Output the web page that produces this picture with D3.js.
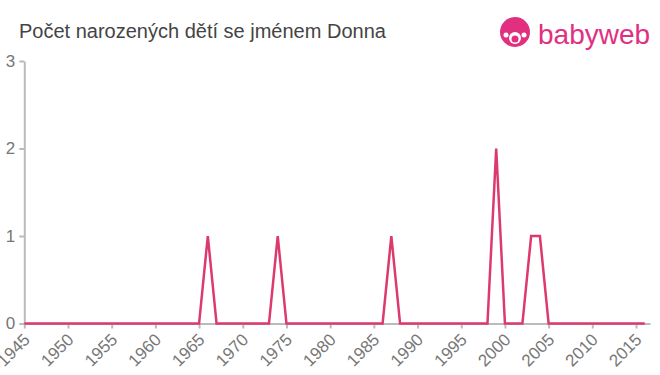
<!DOCTYPE html>
<meta charset="utf-8">
<style>
    body { margin: 0; background: #fff; }
    text { font-family: "Liberation Sans", Arial, sans-serif; }
    .title { font-size: 20px; fill: #444; }
    .axis text { font-size: 17px; fill: #777; }
    .axis path, .axis line { stroke: #bbb; stroke-width: 2px; }
</style>
<svg width="660" height="375"></svg>
<script src="https://d3js.org/d3.v7.min.js"></script>
<script>

    var years = d3.range(1945, 2017);
    // births per year, zero unless listed
    var counts = {1966: 1, 1974: 1, 1987: 1, 1999: 2, 2003: 1, 2004: 1};
    var values = years.map(function (y) { return counts[y] || 0; });
    var xTicks = d3.range(1945, 2016, 5);
    var yTicks = [0, 1, 2, 3];

    var svg = d3.select("svg");

    var x = d3.scaleLinear().domain([1945, 2016.6]).range([24.3, 650]);
    var y = d3.scaleLinear().domain([0, 3]).range([323.5, 61]);

    svg.append("text")
        .attr("class", "title")
        .attr("x", 19)
        .attr("y", 38)
        .text("Počet narozených dětí se jménem Donna");

    // x axis
    var gx = svg.append("g")
        .attr("class", "axis")
        .attr("transform", "translate(0," + y(0) + ")")
        .call(d3.axisBottom(x).tickValues(xTicks).tickFormat(d3.format("d")).tickSize(5).tickSizeOuter(0));
    gx.selectAll("text")
        .attr("text-anchor", "end")
        .attr("x", 0)
        .attr("y", 0)
        .attr("dy", "0.35em")
        .attr("transform", "translate(2,13) rotate(-45)");

    // y axis
    var gy = svg.append("g")
        .attr("class", "axis")
        .attr("transform", "translate(" + x(1945) + ",0)")
        .call(d3.axisLeft(y).tickValues(yTicks).tickFormat(d3.format("d")).tickSize(5).tickSizeOuter(0).tickPadding(4));
    gy.selectAll("text").style("font-size", "17px");

    var line = d3.line()
        .x(function (d, i) { return x(years[i]); })
        .y(function (d) { return y(d); });

    svg.append("path")
        .datum(values)
        .attr("fill", "none")
        .attr("stroke", "#dc3a6c")
        .attr("stroke-width", 2.5)
        .attr("d", line);

    // babyweb logo
    var logo = svg.append("g").attr("transform", "translate(515,32)");
    logo.append("circle").attr("r", 15).attr("fill", "#e0307f");
    logo.append("circle").attr("cx", 0).attr("cy", 6).attr("r", 6).attr("fill", "#fff");
    logo.append("circle").attr("cx", 0).attr("cy", 7).attr("r", 3.5).attr("fill", "#e0307f");
    logo.append("circle").attr("cx", -9).attr("cy", 3).attr("r", 2.5).attr("fill", "#fff");
    logo.append("circle").attr("cx", 9).attr("cy", 3).attr("r", 2.5).attr("fill", "#fff");
    svg.append("text")
        .attr("x", 538)
        .attr("y", 44)
        .attr("font-size", 28)
        .attr("fill", "#e0307f")
        .text("babyweb");

</script>
